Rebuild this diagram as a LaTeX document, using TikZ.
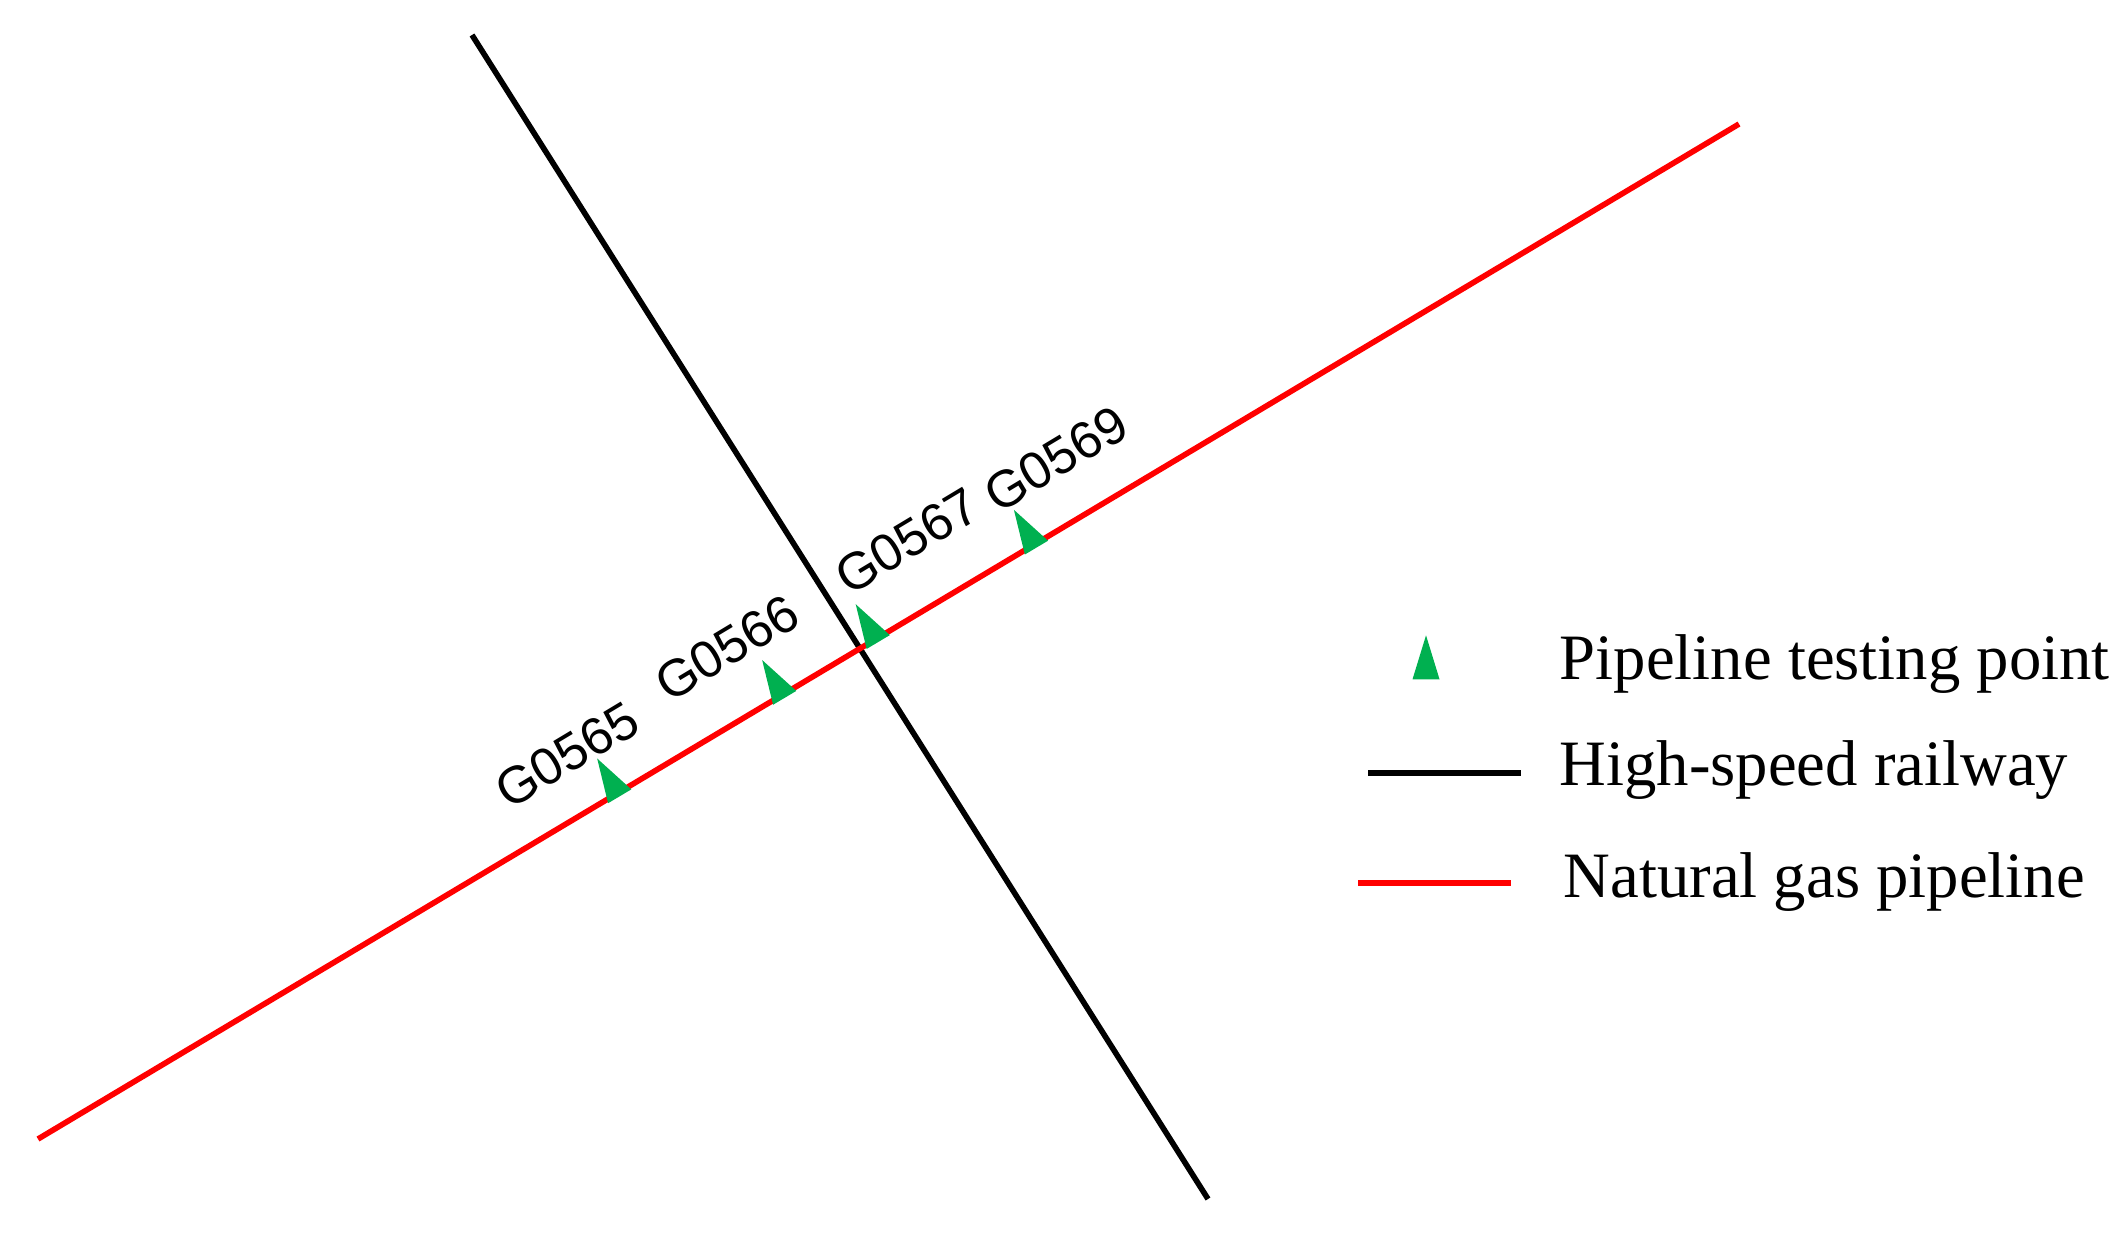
\documentclass[tikz,border=0pt]{standalone}
\usepackage{fontspec}
\setmainfont{Liberation Serif}
\newfontfamily\labelfont{Liberation Sans}
\usetikzlibrary{shapes.geometric,calc}
\definecolor{ptgreen}{RGB}{0,176,80}
\tikzset{
  railway/.style={black, line width=1.6pt},
  pipeline/.style={red, line width=1.6pt},
  testpt/.style={isosceles triangle, isosceles triangle stretches, shape border rotate=90,
    fill=ptgreen, inner sep=0pt, minimum width=0.27cm, minimum height=0.44cm, anchor=lower side},
  ptlabel/.style={font=\labelfont\fontsize{14.8}{16}\selectfont, rotate=31, inner sep=0pt},
  legendtext/.style={font=\fontsize{18.4}{22}\selectfont, anchor=base west, inner sep=0pt}
}
\begin{document}
\begin{tikzpicture}[x=0.01cm, y=-0.01cm]
  \useasboundingbox (0,0) rectangle (2128,1233);
  % railway and pipeline
  \coordinate (rail-n) at (472,35);
  \coordinate (rail-s) at (1208,1199);
  \coordinate (pipe-w) at (38,1139);
  \coordinate (pipe-e) at (1739,124);
  \draw[railway] (rail-n) -- (rail-s);
  \draw[pipeline] (pipe-w) -- (pipe-e);
  % testing points
  \foreach \pos/\name in {0.341/a, 0.438/b, 0.493/c, 0.586/d}
    \node[testpt, rotate=30.8] (tp-\name) at ($(pipe-w)!\pos!(pipe-e)+(2,4)$) {};
  \node[ptlabel] (lb-a) at (567,755) {G0565};
  \node[ptlabel] (lb-b) at (727,648) {G0566};
  \node[ptlabel] (lb-c) at (907,541) {G0567};
  \node[ptlabel] (lb-d) at (1056,459) {G0569};
  % legend
  \node[testpt] (key-pt) at (1426,680) {};
  \coordinate (key-rail-w) at (1368,773);
  \coordinate (key-rail-e) at (1521,773);
  \coordinate (key-pipe-w) at (1358,883);
  \coordinate (key-pipe-e) at (1511,883);
  \draw[railway, line width=1.8pt] (key-rail-w) -- (key-rail-e);
  \draw[pipeline, line width=1.8pt] (key-pipe-w) -- (key-pipe-e);
  \node[legendtext] (key-pt-text) at (1559,679) {Pipeline testing point};
  \node[legendtext] (key-rail-text) at (1559,785) {High-speed railway};
  \node[legendtext] (key-pipe-text) at (1563,897) {Natural gas pipeline};
\end{tikzpicture}
\end{document}
